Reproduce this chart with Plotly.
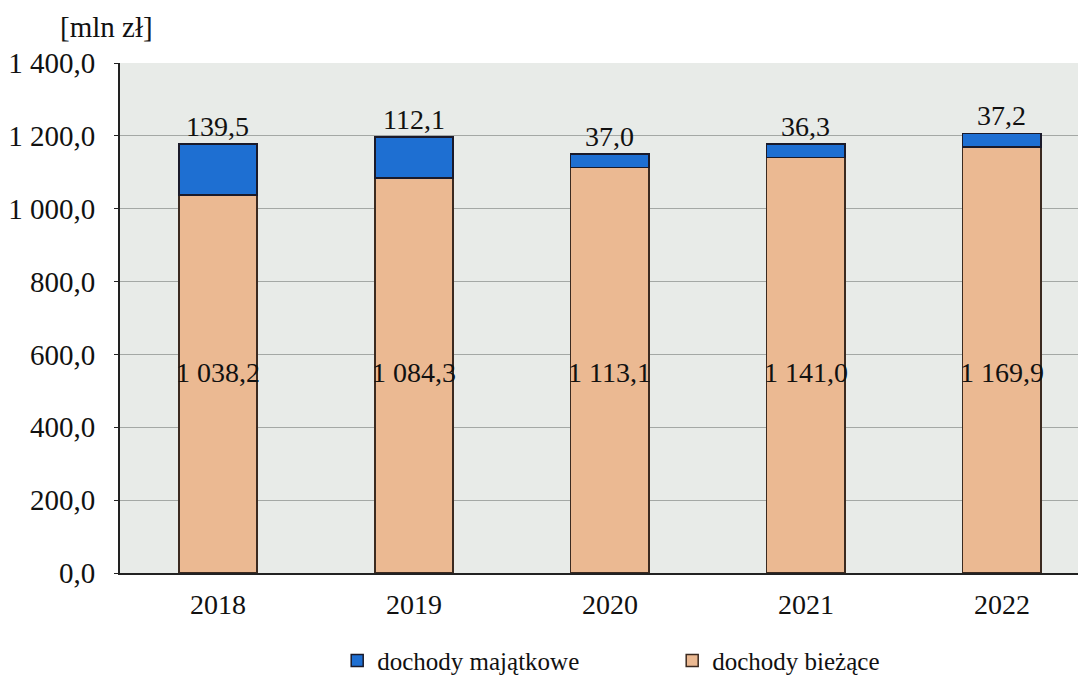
import plotly.graph_objects as go

years = ["2018", "2019", "2020", "2021", "2022"]
biezace = [1038.2, 1084.3, 1113.1, 1141.0, 1169.9]
majatkowe = [139.5, 112.1, 37.0, 36.3, 37.2]
y_ticks = [0, 200, 400, 600, 800, 1000, 1200, 1400]
inner_label_level = 550

FONT = "Liberation Serif"


def pl(v):
    s = f"{v:,.1f}"
    return s.replace(",", " ").replace(".", ",")


fig = go.Figure()
fig.add_trace(go.Bar(
    x=years, y=biezace, name="dochody bieżące",
    marker=dict(color="#ebb992", line=dict(color="#3b2a20", width=1.5)),
    width=0.4, legendrank=2,
))
fig.add_trace(go.Bar(
    x=years, y=majatkowe, name="dochody majątkowe",
    marker=dict(color="#1e6fd2", line=dict(color="#1a1a2a", width=1.5)),
    width=0.4, legendrank=1,
))

annotations = []
for i, (b, m) in enumerate(zip(biezace, majatkowe)):
    annotations.append(dict(x=i, y=inner_label_level, text=pl(b), showarrow=False,
                            font=dict(family=FONT, size=28, color="#111"),
                            xref="x", yref="y"))
    annotations.append(dict(x=i, y=b + m, text=pl(m), showarrow=False,
                            yanchor="bottom", yshift=0,
                            font=dict(family=FONT, size=28, color="#111"),
                            xref="x", yref="y"))
annotations.append(dict(x=-0.014, y=1.035, xref="paper", yref="paper",
                        text="[mln zł]", showarrow=False, xanchor="center",
                        yanchor="bottom",
                        font=dict(family=FONT, size=29, color="#111")))

fig.update_layout(
    width=1086, height=677,
    margin=dict(l=112, r=0, t=55, b=112, autoexpand=False),
    barmode="stack",
    separators=", ",
    paper_bgcolor="white",
    plot_bgcolor="#e8ebe8",
    font=dict(family=FONT, size=28, color="#111"),
    annotations=annotations,
    legend=dict(orientation="h", x=0.223, xanchor="left", y=-0.172,
                yanchor="middle", entrywidth=290, entrywidthmode="pixels",
                traceorder="normal",
                font=dict(family=FONT, size=25, color="#111"),
                bgcolor="rgba(0,0,0,0)"),
    showlegend=True,
)
fig.update_xaxes(type="category", range=[-0.5, 4.47], showline=True,
                 linecolor="#222", linewidth=2, ticks="", showgrid=False,
                 ticklabelstandoff=5,
                 tickfont=dict(family=FONT, size=28))
fig.update_yaxes(range=[0, 1400], tickvals=y_ticks, tickformat=",.1f",
                 showline=True, linecolor="#222", linewidth=2,
                 ticks="outside", ticklen=4, tickcolor="#222",
                 ticklabelstandoff=13,
                 gridcolor="#a4a8a5", gridwidth=1, zeroline=False,
                 tickfont=dict(family=FONT, size=29))

fig.write_html("out.html")
